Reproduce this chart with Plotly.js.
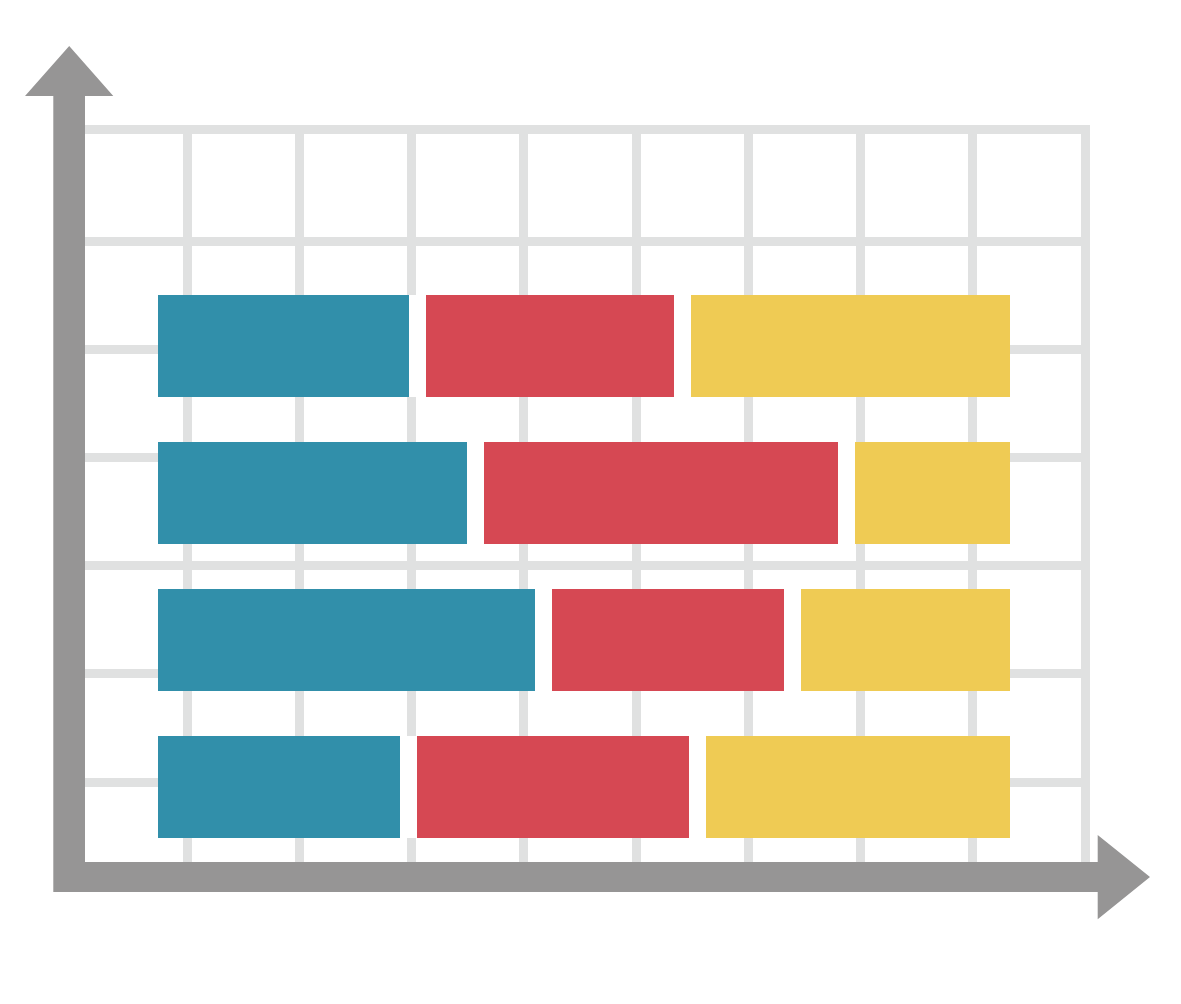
<!DOCTYPE html>
<html>
<head>
<meta charset="utf-8">
<script src="https://cdn.plot.ly/plotly-3.0.1.min.js"></script>
<style>
  html, body { margin: 0; padding: 0; background: #ffffff; }
  #chart { width: 1181px; height: 1004px; }
</style>
</head>
<body>
<div id="chart"></div>
<script>
// ---- data (share of each row, percent) ----
const categories = ['Row 1', 'Row 2', 'Row 3', 'Row 4'];
const seriesA = [30.6, 37.8, 46.1, 29.6];   // teal
const seriesB = [30.4, 43.2, 28.3, 33.2];   // red
const seriesC = [39.0, 19.0, 25.6, 37.2];   // yellow

// ---- layout geometry (pixels) ----
const W = 1181, H = 1004;
const PL = 85, PR = 1081, PT = 134, PB = 862;
const BAR_X0 = 158.3, PX_PER_UNIT = 8.178;
const GRID_X0 = 75, GRID_DX = 112.22;
const ROW_Y0 = 345.5, ROW_DY = 147;
const GRID_Y0 = 241, GRID_DY = 108.2;
const GAP_PX = 16.95;
const BAR_H_PX = 102;

const COLORS = { a: '#318FAA', b: '#D64853', c: '#EFCB54', gap: '#ffffff', axis: '#969595', grid: '#E0E1E1' };

const yIdx = categories.map((c, i) => i);
const gap = GAP_PX / PX_PER_UNIT;
const barWidth = BAR_H_PX / ROW_DY;

function barTrace(vals, color) {
  return {
    type: 'bar', orientation: 'h', y: yIdx, x: vals,
    width: barWidth, marker: { color: color, line: { width: 0 } },
    hoverinfo: 'skip', showlegend: false
  };
}
const spacer = () => barTrace(categories.map(() => gap), COLORS.gap);

const data = [
  barTrace(seriesA, COLORS.a),
  spacer(),
  barTrace(seriesB, COLORS.b),
  spacer(),
  barTrace(seriesC, COLORS.c)
];

// pixel -> paper helpers for decorative axis arrows
const px = x => (x - PL) / (PR - PL);
const py = y => (PB - y) / (PB - PT);
const pts = [
  [53.3, 892], [53.3, 96], [25, 96], [69.2, 46], [113.3, 96], [85, 96], [85, 862],
  [1097.7, 862], [1097.7, 835], [1150, 877], [1097.7, 919.3], [1097.7, 892]
];
const axisPath = 'M ' + pts.map(p => px(p[0]).toFixed(5) + ',' + py(p[1]).toFixed(5)).join(' L ') + ' Z';

const layout = {
  width: W, height: H,
  margin: { l: PL, r: W - PR, t: PT, b: H - PB, pad: 0 },
  paper_bgcolor: '#ffffff', plot_bgcolor: '#ffffff',
  barmode: 'stack', bargap: 0,
  hovermode: false, showlegend: false,
  xaxis: {
    range: [(PL - BAR_X0) / PX_PER_UNIT, (PR - BAR_X0) / PX_PER_UNIT],
    tickmode: 'linear', tick0: (GRID_X0 - BAR_X0) / PX_PER_UNIT, dtick: GRID_DX / PX_PER_UNIT,
    showgrid: true, gridcolor: COLORS.grid, gridwidth: 9,
    showticklabels: false, ticks: '', zeroline: false,
    showline: true, mirror: true, linecolor: COLORS.grid, linewidth: 9,
    fixedrange: true
  },
  yaxis: {
    range: [(PB - ROW_Y0) / ROW_DY, (PT - ROW_Y0) / ROW_DY],
    tickmode: 'linear', tick0: (GRID_Y0 - ROW_Y0) / ROW_DY, dtick: GRID_DY / ROW_DY,
    showgrid: true, gridcolor: COLORS.grid, gridwidth: 9,
    showticklabels: false, ticks: '', zeroline: false,
    showline: true, mirror: true, linecolor: COLORS.grid, linewidth: 9,
    fixedrange: true
  },
  shapes: [
    { type: 'path', xref: 'paper', yref: 'paper', path: axisPath,
      fillcolor: COLORS.axis, line: { width: 0 }, layer: 'above' }
  ]
};

Plotly.newPlot('chart', data, layout, { displayModeBar: false, staticPlot: true });
</script>
</body>
</html>
